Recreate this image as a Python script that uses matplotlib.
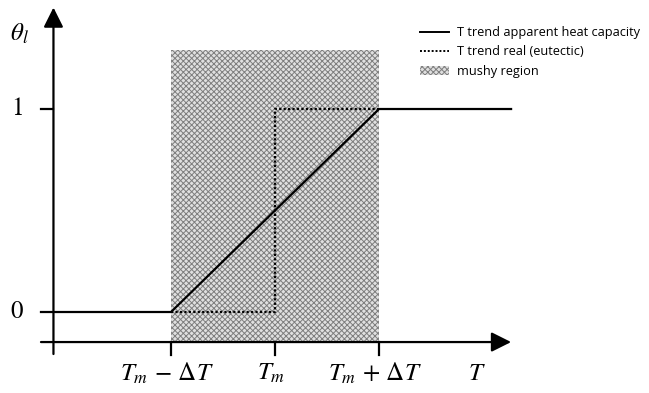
import matplotlib
matplotlib.use("Agg")
import matplotlib.pyplot as plt
from matplotlib.lines import Line2D
from matplotlib.patches import Patch

plt.rcParams['mathtext.fontset'] = 'stix'
plt.rcParams['hatch.linewidth'] = 0.7

# Data (T in units of dT relative to Tm)
T_apparent = [-2.25, -1.0, 1.0, 2.27]
theta_apparent = [0, 0, 1, 1]
T_real = [-1.0, 0.0, 0.0, 1.0]
theta_real = [0, 0, 1, 1]
mushy_T = [-1.0, 1.0]
mushy_top = 1.29
x_ticks = [-1.0, 0.0, 1.0]
x_ticklabels = [r'$T_m\,-\,\Delta T$', r'$T_m$', r'$T_m\,+\,\Delta T$']
y_ticks = [0, 1]
y_ticklabels = ['0', '1']
legend_labels = ['T trend apparent heat capacity', 'T trend real (eutectic)', 'mushy region']

fig = plt.figure(figsize=(6.49, 3.93), dpi=100)
ax = fig.add_axes([0, 0, 1, 1])
ax.set_xlim(-2.644, 3.596)
ax.set_ylim(-0.399, 1.537)
ax.axis('off')

x_axis_pos = -2.13
y_axis_pos = -0.148

hatch_face = '#e0e0e0'
hatch_edge = '#7e7e7e'

# mushy region
ax.fill_between(mushy_T, y_axis_pos, mushy_top, facecolor=hatch_face,
                edgecolor=hatch_edge, hatch='xxxxxx', linewidth=0, zorder=1)

# axes with arrows
ax.annotate('', xy=(2.27, y_axis_pos), xytext=(-2.25, y_axis_pos),
            arrowprops=dict(arrowstyle='-|>,head_length=1.0,head_width=0.5',
                            mutation_scale=12, lw=1.6, color='black',
                            shrinkA=0, shrinkB=0), zorder=5)
ax.annotate('', xy=(x_axis_pos, 1.50), xytext=(x_axis_pos, -0.207),
            arrowprops=dict(arrowstyle='-|>,head_length=1.0,head_width=0.5',
                            mutation_scale=12, lw=1.6, color='black',
                            shrinkA=0, shrinkB=0), zorder=5)

# ticks
for t in x_ticks:
    ax.plot([t, t], [y_axis_pos, y_axis_pos - 0.062], color='black', lw=1.6, zorder=5)
ax.plot([-2.25, x_axis_pos], [1, 1], color='black', lw=1.6, zorder=5)

# curves
ax.plot(T_real, theta_real, color='black', lw=1.6, linestyle=(0, (1, 1)), zorder=3)
ax.plot(T_apparent, theta_apparent, color='black', lw=1.6, zorder=4)

# tick labels
for t, lab in zip(x_ticks, x_ticklabels):
    ax.text(t - 0.04, -0.30, lab, ha='center', va='center', fontsize=18)
ax.text(1.94, -0.30, r'$T$', ha='center', va='center', fontsize=18)
for v, lab in zip(y_ticks, y_ticklabels):
    ax.text(-2.48, v, lab, ha='center', va='center', fontsize=18,
            family='STIXGeneral')
ax.text(-2.46, 1.37, r'$\theta_l$', ha='center', va='center', fontsize=18)

# legend
handles = [Line2D([], [], color='black', lw=1.4),
           Line2D([], [], color='black', lw=1.4, linestyle=(0, (1, 1))),
           Patch(facecolor=hatch_face, edgecolor=hatch_edge, hatch='xxxxxx', lw=0)]
leg = ax.legend(handles, legend_labels, loc='upper left',
                bbox_to_anchor=(420 / 649, 1 - 26 / 393), frameon=False,
                prop={'family': 'Open Sans', 'size': 9.2}, handlelength=2.3,
                handletextpad=0.6, labelspacing=0.5, borderpad=0, borderaxespad=0)

fig.savefig('out.png', dpi=100)
